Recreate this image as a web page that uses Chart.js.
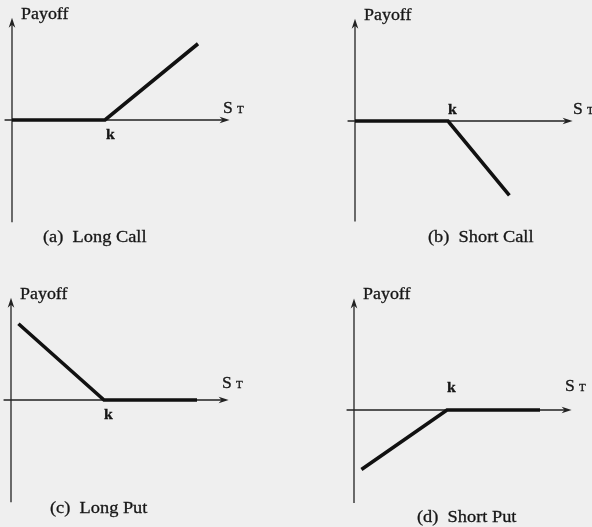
<!DOCTYPE html>
<html>
<head>
<meta charset="utf-8">
<script src="https://cdn.jsdelivr.net/npm/chart.js@4/dist/chart.umd.min.js"></script>
<style>
  html, body { margin: 0; padding: 0; background: #efefef; }
  #wrap { position: relative; width: 592px; height: 527px; overflow: hidden; }
  #wrap canvas { position: absolute; left: 0; top: 0; }
</style>
</head>
<body>
<div id="wrap">
  <canvas id="longCall" width="592" height="527"></canvas>
  <canvas id="shortCall" width="592" height="527"></canvas>
  <canvas id="longPut" width="592" height="527"></canvas>
  <canvas id="shortPut" width="592" height="527"></canvas>
</div>
<script>
// payoff at expiry against the underlying price S_T, strike k = 50
const strike = 50;
const longCallS = [0, 50, 100];
const longCallPayoff = [0, 0, 41];
const shortCallS = [0, 50, 83];
const shortCallPayoff = [0, 0, -40];
const longPutS = [4, 50, 100];
const longPutPayoff = [41, 0, 0];
const shortPutS = [4, 50, 100];
const shortPutPayoff = [-32, 0, 0];
const captions = ["(a)  Long Call", "(b)  Short Call", "(c)  Long Put", "(d)  Short Put"];

const SERIF = '"Liberation Serif", "Times New Roman", serif';
const UNIT = 1.86; // pixels per unit, same on both axes

// where each small diagram sits on the page
const panels = [
  { id: "longCall", s: longCallS, p: longCallPayoff, ox: 12, oy: 120, ymin: -55, ymax: 55,
    st: [223, 113], k: [106, 139], cap: [43, 242] },
  { id: "shortCall", s: shortCallS, p: shortCallPayoff, ox: 355, oy: 121, ymin: -54, ymax: 55,
    st: [573, 114], k: [448, 114], cap: [428, 242] },
  { id: "longPut", s: longPutS, p: longPutPayoff, ox: 11, oy: 400, ymin: -55, ymax: 55,
    st: [222, 388], k: [104, 419], cap: [50, 513] },
  { id: "shortPut", s: shortPutS, p: shortPutPayoff, ox: 354, oy: 410, ymin: -50, ymax: 60,
    st: [565, 391], k: [447, 392], cap: [417, 522] },
];
const xmin = -4, xmax = 117;

// scanned-looking serif text: fill plus a thin stroke to thicken it
function serifText(ctx, str, x, y, size, weight, stretch) {
  ctx.save();
  ctx.font = (weight || "normal") + " " + size + "px " + SERIF;
  ctx.fillStyle = "#161616";
  ctx.strokeStyle = "#161616";
  ctx.lineWidth = 0.3;
  ctx.textBaseline = "alphabetic";
  ctx.translate(x, y);
  ctx.scale(stretch || 1, 1);
  ctx.fillText(str, 0, 0);
  ctx.strokeText(str, 0, 0);
  ctx.restore();
}

function arrowHead(ctx, x, y, dir) {
  // narrow filled head, dir: "right" or "up"
  const len = 10, half = 3.3;
  ctx.beginPath();
  if (dir === "right") {
    ctx.moveTo(x, y);
    ctx.lineTo(x - len, y - half);
    ctx.lineTo(x - len + 3, y);
    ctx.lineTo(x - len, y + half);
  } else {
    ctx.moveTo(x, y);
    ctx.lineTo(x - half, y + len);
    ctx.lineTo(x, y + len - 3);
    ctx.lineTo(x + half, y + len);
  }
  ctx.closePath();
  ctx.fill();
}

// axes through the origin with arrows, drawn under the payoff line
const payoffAxes = {
  id: "payoffAxes",
  beforeDatasetsDraw(chart, args, opts) {
    const { ctx, chartArea, scales } = chart;
    const x0 = scales.x.getPixelForValue(0);
    const y0 = scales.y.getPixelForValue(0);
    ctx.save();
    ctx.strokeStyle = "#222222";
    ctx.fillStyle = "#222222";
    ctx.lineWidth = 1.3;
    ctx.beginPath();
    ctx.moveTo(chartArea.left, y0);
    ctx.lineTo(chartArea.right - 4, y0);
    ctx.moveTo(x0, chartArea.bottom);
    ctx.lineTo(x0, chartArea.top + 4);
    ctx.stroke();
    arrowHead(ctx, chartArea.right, y0, "right");
    arrowHead(ctx, x0, chartArea.top, "up");
    ctx.restore();
  },
  afterDraw(chart, args, opts) {
    const { ctx, chartArea, scales } = chart;
    const x0 = scales.x.getPixelForValue(0);
    serifText(ctx, "Payoff", x0 + 9, chartArea.top + 1, 16, "normal", 1.12);
    serifText(ctx, "S", opts.st[0], opts.st[1], 16, "normal", 1.1);
    serifText(ctx, "T", opts.st[0] + 14, opts.st[1], 10, "normal", 1.1);
    serifText(ctx, "k", opts.k[0], opts.k[1], 15, "bold", 1.05);
    serifText(ctx, opts.caption, opts.cap[0], opts.cap[1], 17, "normal", 1.08);
  },
};

panels.forEach((pn, i) => {
  const points = pn.s.map((s, j) => ({ x: s, y: pn.p[j] }));
  new Chart(document.getElementById(pn.id), {
    type: "line",
    data: {
      datasets: [{
        data: points,
        borderColor: "#111111",
        borderWidth: 3.6,
        pointRadius: 0,
        tension: 0,
        borderCapStyle: "butt",
        borderJoinStyle: "miter",
        clip: false,
      }],
    },
    options: {
      responsive: false,
      animation: false,
      events: [],
      layout: {
        padding: {
          left: pn.ox + xmin * UNIT,
          right: 592 - (pn.ox + xmax * UNIT),
          top: pn.oy - pn.ymax * UNIT,
          bottom: 527 - (pn.oy - pn.ymin * UNIT),
        },
      },
      scales: {
        x: { type: "linear", min: xmin, max: xmax, display: false },
        y: { type: "linear", min: pn.ymin, max: pn.ymax, display: false },
      },
      plugins: {
        legend: { display: false },
        tooltip: { enabled: false },
        payoffAxes: { st: pn.st, k: pn.k, cap: pn.cap, caption: captions[i] },
      },
    },
    plugins: [payoffAxes],
  });
});
</script>
</body>
</html>
